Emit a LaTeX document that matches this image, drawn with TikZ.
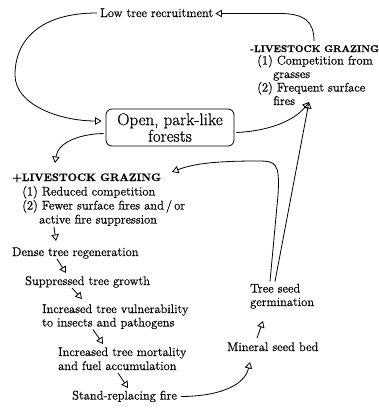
\documentclass[tikz,border=0pt]{standalone}
\usepackage{fontspec}
\setmainfont{Latin Modern Roman}[FakeBold=0.6]
\usetikzlibrary{arrows.meta,calc}
\begin{document}
\begin{tikzpicture}[x=1pt,y=-1pt,
  txt/.style={anchor=base west, inner sep=0pt, font=\fontsize{12.5}{14}\selectfont},
  hdp/.style={anchor=base west, inner sep=0pt, font=\fontsize{10.9}{14}\selectfont\bfseries},
  hdm/.style={anchor=base west, inner sep=0pt, font=\fontsize{9.8}{14}\selectfont\bfseries},
  box/.style={draw, rounded corners=6pt, line width=0.8pt, minimum width=128pt,
    minimum height=37pt, align=center, inner sep=1pt,
    font=\fontsize{17}{16.5}\selectfont},
  arr/.style={-{Triangle[open,length=6.5pt,width=7.5pt]}, line width=0.8pt},
  ln/.style={line width=0.8pt}]
\useasboundingbox (0,0) rectangle (379,408);

\node[txt] (low) at (100,17) {Low tree recruitment};
\node[box] (open) at (170,127.5) {Open, park-like\\forests};

\node[hdm] (mg) at (250,52) {-LIVESTOCK GRAZING};
\node[txt] (m1) at (257,64.5) {(1) Competition from};
\node[txt] (m2) at (273,78) {grasses};
\node[txt] (m3) at (257,91.5) {(2) Frequent surface};
\node[txt] (m4) at (273,105) {fires};

\node[hdp] (pg) at (12,181) {+LIVESTOCK GRAZING};
\node[txt] (p1) at (22,195.5) {(1) Reduced competition};
\node[txt] (p2) at (22,209.5) {(2) Fewer surface fires and\,/\,or};
\node[txt] (p3) at (39,223.5) {active fire suppression};
\node[txt] (dense) at (12,256) {Dense tree regeneration};
\node[txt] (supp) at (25,285) {Suppressed tree growth};
\node[txt] (vul1) at (42,313) {Increased tree vulnerability};
\node[txt] (vul2) at (42,326.5) {to insects and pathogens};
\node[txt] (mort1) at (58,356) {Increased tree mortality};
\node[txt] (mort2) at (58,370) {and fuel accumulation};
\node[txt] (fire) at (72,399.5) {Stand-replacing fire};
\node[txt] (bed) at (227,351) {Mineral seed bed};
\node[txt] (germ1) at (250,292.5) {Tree seed};
\node[txt] (germ2) at (250,306) {germination};

% left chain
\draw[arr] ($(p3.base west)+(15,3.5)$) -- ($(dense.base west)+(44,-15)$);
\draw[arr] ($(dense.base west)+(45,3)$) -- ($(supp.base west)+(41,-12)$);
\draw[arr] ($(supp.base west)+(47,3)$) -- ($(vul1.base west)+(40,-14)$);
\draw[arr] ($(vul2.base west)+(51,3)$) -- ($(mort1.base west)+(45,-12)$);
\draw[arr] ($(mort2.base west)+(60,3)$) -- ($(fire.base west)+(56,-11.5)$);

% bottom right
\draw[arr] ($(fire.base east)+(4,-3)$) .. controls +(32,0) and (244,388) .. ($(bed.base west)+(23,11)$);
\draw[arr] ($(bed.base west)+(30,-13)$) -- ($(germ2.base west)+(13,15)$);
\draw[arr] ($(germ1.base west)+(25,-11)$) -- ($(m4.base west)+(36,-3)$);
\draw[arr] ($(germ1.base west)+(20,-11)$) -- (278,195)
  .. controls (280,163) and (276,161) .. (258,161)
  .. controls (220,161) and (195,163) .. ($(pg.base west)+(160,-9)$);

% box connectors
\draw[arr] ($(open.east)+(2,5)$) .. controls (270,131) and (295,120) .. ($(m4.base west)+(36,-3)$);
\draw[arr] ($(open.west)+(-2,6)$) .. controls (80,134) and (58,142) .. ($(pg.base west)+(43,-18)$);
\draw[arr] ($(low.base west)+(-3,-4)$) .. controls (40,13) and (15,40) .. (15,75)
  .. controls (15,105) and (60,121) .. ($(open.west)+(-4,-6.5)$);
\draw[arr] ($(mg.base west)+(64,-11)$) .. controls +(0,-19) and (305,13.5) .. (280,13.5)
  -- ($(low.base east)+(2,-3.5)$);
\end{tikzpicture}
\end{document}
